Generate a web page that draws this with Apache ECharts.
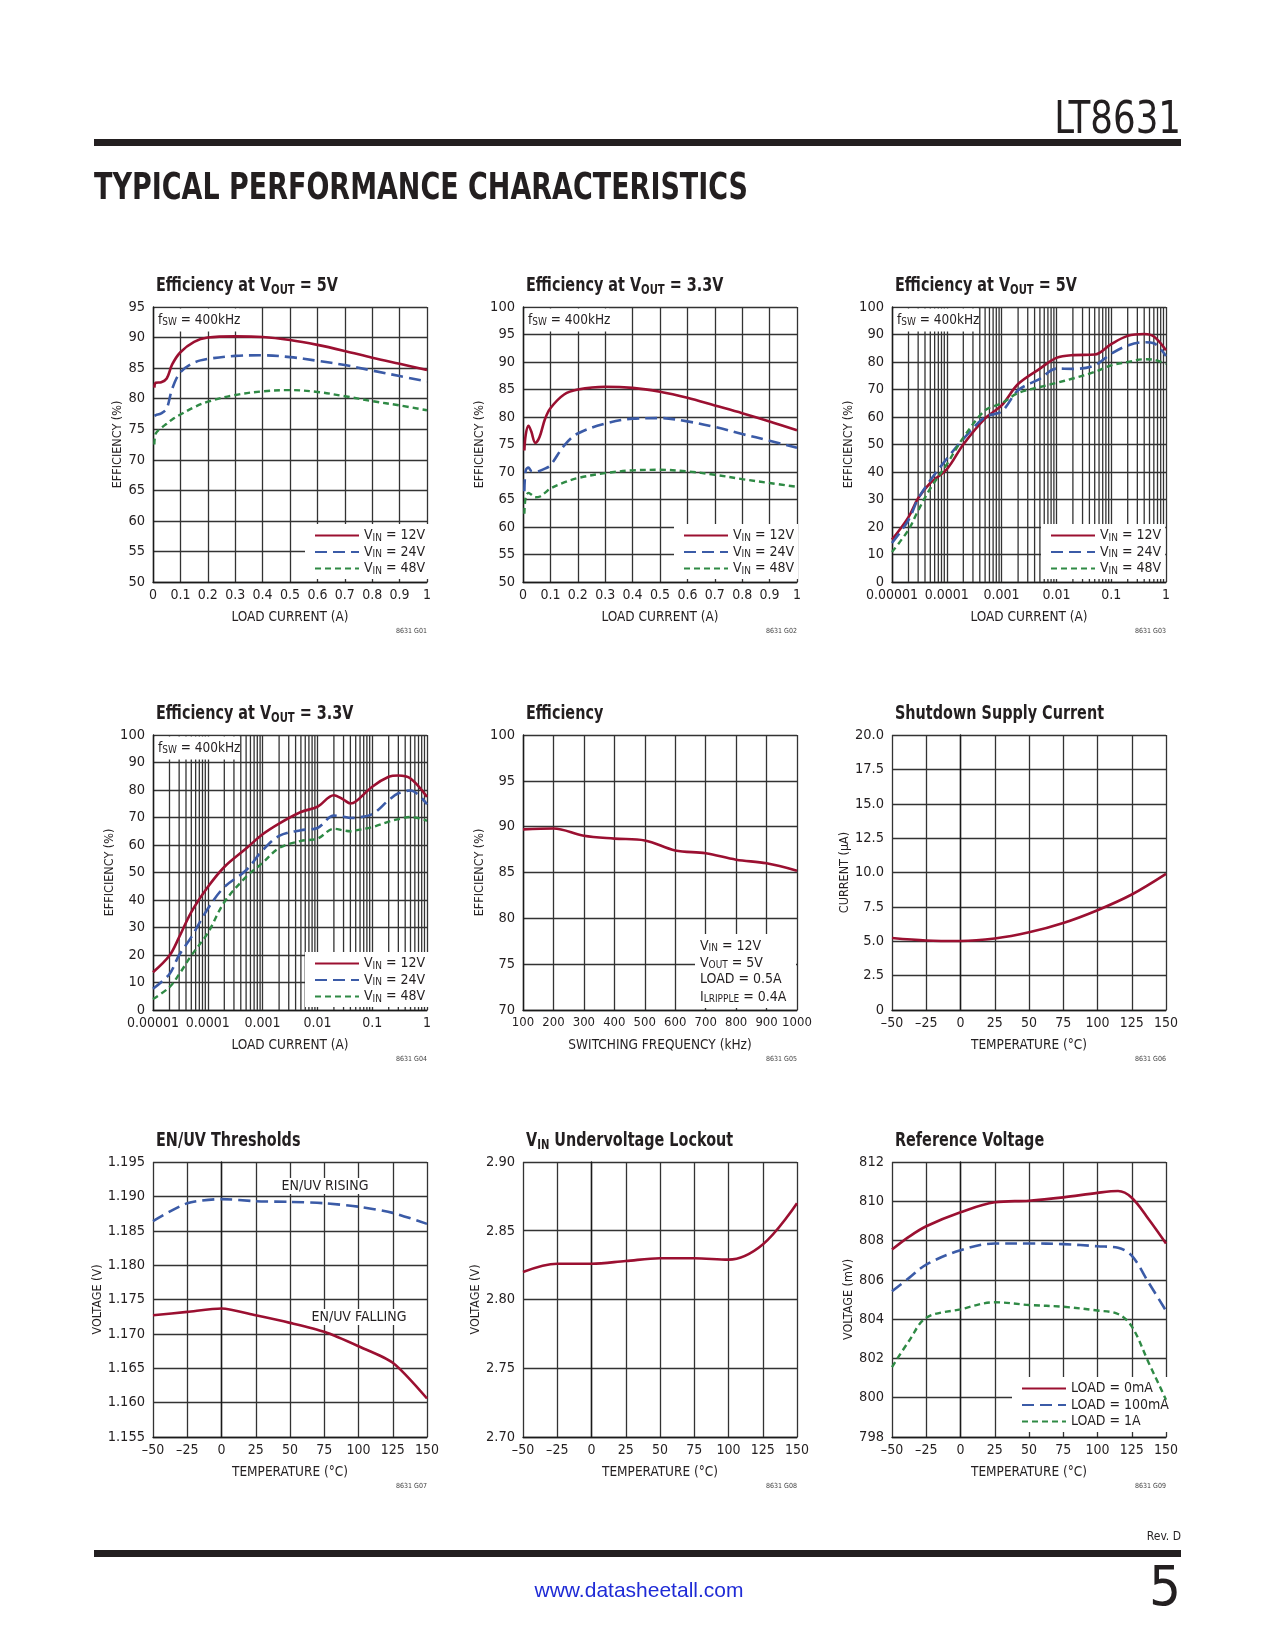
<!DOCTYPE html>
<html><head><meta charset="utf-8">
<script src="https://cdn.jsdelivr.net/npm/echarts@6.0.0/dist/echarts.min.js"></script>
<style>html,body{margin:0;padding:0;background:#fff}#c{width:1275px;height:1650px}</style>
</head><body><div id="c"></div>
<script>
// ---------- DATA ----------
// G01 Efficiency at VOUT = 5V (linear load)
const g1Load = [0.005, 0.01, 0.03, 0.05, 0.07, 0.1, 0.15, 0.2, 0.3, 0.4, 0.5, 0.6, 0.7, 0.8, 0.9, 1.0];
const g1Vin12 = [81.8, 82.6, 82.7, 83.3, 85.6, 87.6, 89.3, 90.0, 90.2, 90.1, 89.6, 88.8, 87.8, 86.7, 85.7, 84.7];
const g1Vin24 = [77.2, 77.3, 77.6, 78.4, 81.6, 84.3, 85.9, 86.5, 87.0, 87.1, 86.8, 86.2, 85.5, 84.6, 83.7, 82.8];
const g1Vin48 = [72.5, 74.3, 75.2, 75.9, 76.6, 77.4, 78.6, 79.5, 80.6, 81.2, 81.4, 81.1, 80.4, 79.6, 78.9, 78.1];
// G02 Efficiency at VOUT = 3.3V (linear load)
const g2Load = [0.005, 0.01, 0.02, 0.03, 0.045, 0.06, 0.08, 0.1, 0.15, 0.2, 0.3, 0.4, 0.5, 0.6, 0.7, 0.8, 0.9, 1.0];
const g2Vin12 = [73.9, 76.8, 78.4, 77.4, 75.3, 76.3, 79.6, 81.6, 84.1, 85.0, 85.5, 85.3, 84.6, 83.5, 82.1, 80.7, 79.2, 77.6];
const g2Vin24 = [66.5, 70.3, 70.8, 70.2, 70.1, 70.2, 70.6, 71.2, 74.8, 77.0, 78.8, 79.7, 79.8, 79.2, 78.2, 76.9, 75.7, 74.4];
const g2Vin48 = [62.4, 65.5, 66.2, 65.9, 65.4, 65.5, 66.2, 67.0, 68.1, 68.9, 69.8, 70.3, 70.4, 70.1, 69.5, 68.7, 68.0, 67.3];
// G03 Efficiency at VOUT = 5V (log load)
const g3Load = [1e-5, 2e-5, 3e-5, 5e-5, 1e-4, 2e-4, 5e-4, 1e-3, 2e-3, 5e-3, 1e-2, 2e-2, 5e-2, 0.1, 0.2, 0.4, 0.6, 1];
const g3Vin12 = [15.4, 23.6, 30.5, 36.0, 41.0, 50.0, 59.5, 64.2, 72.0, 77.6, 81.5, 82.5, 82.7, 86.5, 89.5, 90.2, 89.3, 84.3];
const g3Vin24 = [14.2, 22.5, 30.3, 37.0, 44.8, 52.0, 60.0, 62.0, 69.7, 73.9, 77.6, 77.5, 78.8, 83.0, 86.0, 87.2, 86.8, 82.2];
const g3Vin48 = [10.9, 19.0, 26.0, 34.0, 42.8, 52.5, 62.4, 65.0, 68.7, 70.9, 72.4, 74.0, 76.4, 78.8, 80.0, 81.0, 80.8, 79.3];
// G04 Efficiency at VOUT = 3.3V (log load)
const g4Load = [1e-5, 2e-5, 3e-5, 5e-5, 1e-4, 2e-4, 5e-4, 1e-3, 2e-3, 5e-3, 1e-2, 2e-2, 3e-2, 4e-2, 5e-2, 0.1, 0.2, 0.3, 0.5, 1];
const g4Vin12 = [13.7, 19.8, 26.5, 35.6, 44.7, 52.0, 58.7, 63.9, 67.8, 72.0, 73.9, 78.1, 76.5, 75.1, 75.8, 81.2, 84.8, 85.3, 84.2, 77.5];
const g4Vin24 = [7.7, 13.1, 20.0, 26.5, 36.8, 44.7, 50.8, 58.1, 63.3, 65.4, 66.2, 70.7, 70.3, 69.8, 69.9, 71.2, 76.3, 78.8, 79.8, 74.8];
const g4Vin48 = [4.0, 8.3, 13.0, 19.8, 28.0, 39.2, 48.4, 53.5, 58.9, 61.5, 62.3, 65.9, 65.3, 65.0, 65.3, 66.5, 68.5, 69.4, 70.2, 68.8];
// G05 Efficiency vs switching frequency
const g5Freq = [100, 200, 300, 400, 500, 600, 700, 800, 900, 1000];
const g5Eff = [89.7, 89.8, 89.0, 88.7, 88.5, 87.4, 87.1, 86.4, 86.0, 85.2];
// G06 Shutdown supply current
const tempC = [-50, -25, 0, 25, 50, 75, 100, 125, 150];
const g6Current = [5.24, 5.06, 5.02, 5.2, 5.65, 6.33, 7.26, 8.4, 9.9];
// G07 EN/UV thresholds
const g7Rising = [1.1864, 1.1890, 1.1896, 1.1893, 1.1892, 1.1890, 1.1885, 1.1876, 1.1860];
const g7Falling = [1.1727, 1.1732, 1.1737, 1.1727, 1.1716, 1.1703, 1.1682, 1.1658, 1.1606];
// G08 VIN UVLO
const g8Uvlo = [2.820, 2.826, 2.826, 2.828, 2.830, 2.830, 2.829, 2.840, 2.870];
// G09 Reference voltage
const g9Temp = [-50, -37.5, -25, 0, 25, 50, 75, 100, 115, 125, 137.5, 150];
const g9Load0 = [807.54, 808.2, 808.73, 809.44, 809.95, 810.03, 810.2, 810.43, 810.52, 810.18, 809.07, 807.85];
const g9Load100 = [805.42, 806.1, 806.78, 807.51, 807.85, 807.85, 807.82, 807.71, 807.63, 807.23, 805.84, 804.43];
const g9Load1A = [801.56, 802.9, 804.07, 804.5, 804.86, 804.72, 804.63, 804.44, 804.26, 803.63, 801.76, 799.9];
// log minor grid positions (multipliers within each decade)
const logDecades = [1e-5, 1e-4, 1e-3, 1e-2, 1e-1];
const logMinor = [2, 3, 4, 5, 6, 7, 8, 9];

// ---------- STYLE ----------
const TXT = '#231f20';
const NF = "'DejaVu Sans Condensed','Liberation Sans Narrow','DejaVu Sans',sans-serif";
const BF = "'DejaVu Sans','Liberation Sans',sans-serif";
const GRIDC = '#333333';
const RED = {color: '#9b1031', width: 2.6, type: 'solid'};
const BLUE = {color: '#3b5ba7', width: 2.6, type: [12, 6]};
const GREEN = {color: '#2f8a45', width: 2.4, type: [6, 4]};
const COLS = [153, 523, 892], ROWS = [307, 735, 1162], W = 274, H = 275;

const pairs = (xs, ys) => xs.map((x, i) => [x, ys[i]]);
const tempFmt = v => v < 0 ? '\u2013' + Math.abs(v) : String(v);
const logFmt = v => String(+(+v).toPrecision(1));

const charts = [
  {title: 'Efficiency at V{s|OUT} = 5V', c: 0, r: 0, code: '8631 G01',
   x: {type: 'value', min: 0, max: 1, interval: 0.1, name: 'LOAD CURRENT (A)'},
   y: {min: 50, max: 95, interval: 5, name: 'EFFICIENCY (%)', gap: 28},
   s: [['VIN = 12V', g1Load, g1Vin12, RED], ['VIN = 24V', g1Load, g1Vin24, BLUE], ['VIN = 48V', g1Load, g1Vin48, GREEN]],
   legend: [305, 524], fsw: true},
  {title: 'Efficiency at V{s|OUT} = 3.3V', c: 1, r: 0, code: '8631 G02',
   x: {type: 'value', min: 0, max: 1, interval: 0.1, name: 'LOAD CURRENT (A)'},
   y: {min: 50, max: 100, interval: 5, name: 'EFFICIENCY (%)', gap: 28},
   s: [['VIN = 12V', g2Load, g2Vin12, RED], ['VIN = 24V', g2Load, g2Vin24, BLUE], ['VIN = 48V', g2Load, g2Vin48, GREEN]],
   legend: [674, 524], fsw: true},
  {title: 'Efficiency at V{s|OUT} = 5V', c: 2, r: 0, code: '8631 G03',
   x: {type: 'log', min: 1e-5, max: 1, name: 'LOAD CURRENT (A)'},
   y: {min: 0, max: 100, interval: 10, name: 'EFFICIENCY (%)', gap: 34},
   s: [['VIN = 12V', g3Load, g3Vin12, RED], ['VIN = 24V', g3Load, g3Vin24, BLUE], ['VIN = 48V', g3Load, g3Vin48, GREEN]],
   legend: [1041, 524], fsw: true},
  {title: 'Efficiency at V{s|OUT} = 3.3V', c: 0, r: 1, code: '8631 G04',
   x: {type: 'log', min: 1e-5, max: 1, name: 'LOAD CURRENT (A)'},
   y: {min: 0, max: 100, interval: 10, name: 'EFFICIENCY (%)', gap: 34},
   s: [['VIN = 12V', g4Load, g4Vin12, RED], ['VIN = 24V', g4Load, g4Vin24, BLUE], ['VIN = 48V', g4Load, g4Vin48, GREEN]],
   legend: [305, 952], fsw: true},
  {title: 'Efficiency', c: 1, r: 1, code: '8631 G05',
   x: {type: 'value', min: 100, max: 1000, interval: 100, name: 'SWITCHING FREQUENCY (kHz)', fs: 13},
   y: {min: 70, max: 100, interval: 5, name: 'EFFICIENCY (%)', gap: 29},
   s: [['EFF', g5Freq, g5Eff, RED]]},
  {title: 'Shutdown Supply Current', c: 2, r: 1, code: '8631 G06',
   x: {type: 'value', min: -50, max: 150, interval: 25, name: 'TEMPERATURE (\u00b0C)', fmt: tempFmt},
   y: {min: 0, max: 20, interval: 2.5, name: 'CURRENT (\u03bcA)', gap: 36, fmt: v => v === 0 ? '0' : v.toFixed(1)},
   s: [['IQ', tempC, g6Current, RED]]},
  {title: 'EN/UV Thresholds', c: 0, r: 2, code: '8631 G07',
   x: {type: 'value', min: -50, max: 150, interval: 25, name: 'TEMPERATURE (\u00b0C)', fmt: tempFmt},
   y: {min: 1.155, max: 1.195, interval: 0.005, name: 'VOLTAGE (V)', gap: 44, fmt: v => v.toFixed(3)},
   s: [['EN/UV RISING', tempC, g7Rising, BLUE], ['EN/UV FALLING', tempC, g7Falling, RED]], smooth: 0.25},
  {title: 'V{s|IN} Undervoltage Lockout', c: 1, r: 2, code: '8631 G08',
   x: {type: 'value', min: -50, max: 150, interval: 25, name: 'TEMPERATURE (\u00b0C)', fmt: tempFmt},
   y: {min: 2.70, max: 2.90, interval: 0.05, name: 'VOLTAGE (V)', gap: 35, fmt: v => v.toFixed(2)},
   s: [['UVLO', tempC, g8Uvlo, RED]]},
  {title: 'Reference Voltage', c: 2, r: 2, code: '8631 G09',
   x: {type: 'value', min: -50, max: 150, interval: 25, name: 'TEMPERATURE (\u00b0C)', fmt: tempFmt},
   y: {min: 798, max: 812, interval: 2, name: 'VOLTAGE (mV)', gap: 36},
   s: [['LOAD = 0mA', g9Temp, g9Load0, RED], ['LOAD = 100mA', g9Temp, g9Load100, BLUE], ['LOAD = 1A', g9Temp, g9Load1A, GREEN]],
   legend: [1012, 1377]}
];

const subRich = (fs, pad) => ({s: {fontFamily: NF, fontSize: fs, fill: TXT, color: TXT, padding: [pad, 0, 0, 0]}});

const option = {animation: false, backgroundColor: '#fff', grid: [], xAxis: [], yAxis: [], series: [], legend: [], graphic: []};

charts.forEach((ch, i) => {
  const L = COLS[ch.c], T = ROWS[ch.r];
  option.grid.push({left: L, top: T, width: W, height: H, containLabel: false});
  // chart title (condensed bold look via horizontal scale)
  option.graphic.push({type: 'text', z: 60, x: L + 3, y: T - 21, scaleX: 0.72, scaleY: 1,
    style: {text: ch.title, x: 0, y: 0, verticalAlign: 'middle', fontFamily: BF, fontWeight: 'bold', fontSize: 20, fill: TXT,
      rich: {s: {fontFamily: BF, fontWeight: 'bold', fontSize: 14, fill: TXT, padding: [8, 0, 0, 0]}}}});
  const xa = {
    type: ch.x.type, gridIndex: i, min: ch.x.min, max: ch.x.max,
    name: ch.x.name, nameLocation: 'middle', nameGap: 28,
    nameTextStyle: {fontFamily: NF, fontSize: 13.5, color: TXT},
    axisLine: {show: true, lineStyle: {color: '#1a1a1a', width: 1.4}},
    axisTick: {show: false},
    axisLabel: {fontFamily: NF, fontSize: ch.x.fs || 14, color: TXT, margin: 6, interval: 0, hideOverlap: false,
      showMinLabel: true, showMaxLabel: true,
      formatter: ch.x.type === 'log' ? logFmt : (ch.x.fmt || (v => String(+v.toFixed(2))))},
    splitLine: {show: true, lineStyle: {color: GRIDC, width: 1.3}}
  };
  if (ch.x.type === 'log') { xa.logBase = 10; } else { xa.interval = ch.x.interval; }
  option.xAxis.push(xa);
  option.yAxis.push({
    type: 'value', gridIndex: i, min: ch.y.min, max: ch.y.max, interval: ch.y.interval,
    name: ch.y.name, nameLocation: 'middle', nameGap: ch.y.gap, nameRotate: 90,
    nameTextStyle: {fontFamily: NF, fontSize: 12.5, color: TXT},
    axisLine: {show: true, lineStyle: {color: '#1a1a1a', width: 1.4}},
    axisTick: {show: false},
    axisLabel: {fontFamily: NF, fontSize: 14.5, color: TXT, margin: 8, showMinLabel: true, showMaxLabel: true,
      formatter: ch.y.fmt || (v => String(v))},
    splitLine: {show: true, lineStyle: {color: GRIDC, width: 1.3}}
  });
  if (ch.x.type === 'log') {
    // minor vertical grid lines at 2..9 of each decade, drawn through the log axis
    const minorData = [];
    logDecades.forEach(d => logMinor.forEach(m => {
      const v = +(d * m).toPrecision(2);
      minorData.push([v, ch.y.min], [v, ch.y.max], [v, null]);
    }));
    option.series.push({
      type: 'line', name: '_minor' + i, xAxisIndex: i, yAxisIndex: i, data: minorData, z: 1, silent: true,
      showSymbol: false, symbol: 'none', connectNulls: false, smooth: false,
      lineStyle: {color: GRIDC, width: 1.3, type: 'solid'}, itemStyle: {color: GRIDC}, emphasis: {disabled: true}
    });
  }
  ch.s.forEach(([name, xs, ys, st]) => {
    option.series.push({
      type: 'line', name: name, xAxisIndex: i, yAxisIndex: i, data: pairs(xs, ys),
      showSymbol: false, symbol: 'none', smooth: ch.smooth !== undefined ? ch.smooth : 0.35,
      lineStyle: {color: st.color, width: st.width, type: st.type}, itemStyle: {color: st.color},
      z: 3, silent: true, emphasis: {disabled: true}
    });
  });
  if (ch.legend) {
    option.legend.push({
      orient: 'vertical', left: ch.legend[0], top: ch.legend[1], itemWidth: 44, itemHeight: 12, z: 2,
      itemGap: 1.5, itemTextGap: 5, padding: [4, 4, 3, 9], backgroundColor: '#fff', selectedMode: false,
      itemStyle: {color: 'rgba(0,0,0,0)', borderWidth: 0, opacity: 0},
      data: ch.s.map(s => s[0]),
      formatter: n => n.replace(/^VIN/, 'V{s|IN}'),
      textStyle: {fontFamily: NF, fontSize: 14, color: TXT, lineHeight: 15,
        rich: {s: {fontFamily: NF, fontSize: 10, color: TXT, lineHeight: 10, padding: [5, 0, 0, 0]}}}
    });
  }
  option.graphic.push({type: 'text', z: 50, style: {text: ch.code, x: L + W, y: T + H + 49,
    align: 'right', verticalAlign: 'middle', fontFamily: NF, fontSize: 7, fill: '#444'}});
  if (ch.fsw) {
    option.graphic.push({type: 'rect', z: 50, shape: {x: L + 2, y: T + 1.5, width: 84, height: 23}, style: {fill: '#fff'}});
    option.graphic.push({type: 'text', z: 51, style: {text: 'f{s|SW} = 400kHz', x: L + 5, y: T + 13,
      verticalAlign: 'middle', fontFamily: NF, fontSize: 13.5, fill: TXT, lineHeight: 15, rich: subRich(10, 5)}});
  }
});

// chart 5 condition box
option.graphic.push({type: 'rect', z: 50, shape: {x: 695, y: 934, width: 101, height: 74}, style: {fill: '#fff'}});
[['V{s|IN} = 12V', 946], ['V{s|OUT} = 5V', 963], ['LOAD = 0.5A', 979], ['I{s|LRIPPLE} = 0.4A', 997]].forEach(([t, y]) => {
  option.graphic.push({type: 'text', z: 51, style: {text: t, x: 700, y: y, verticalAlign: 'middle',
    fontFamily: NF, fontSize: 14, fill: TXT, lineHeight: 15, rich: subRich(10, 5)}});
});
// chart 7 curve labels
option.graphic.push({type: 'text', z: 51, style: {text: 'EN/UV RISING', x: 325, y: 1186, align: 'center', verticalAlign: 'middle',
  fontFamily: NF, fontSize: 14, fill: TXT, backgroundColor: '#fff', padding: [1, 2, 1, 2]}});
option.graphic.push({type: 'text', z: 51, style: {text: 'EN/UV FALLING', x: 359, y: 1317, align: 'center', verticalAlign: 'middle',
  fontFamily: NF, fontSize: 14, fill: TXT, backgroundColor: '#fff', padding: [1, 2, 1, 2]}});

// page furniture
option.graphic.push(
  {type: 'text', z: 50, x: 1181, y: 122, scaleX: 0.9, style: {text: 'LT8631', x: 0, y: 0, align: 'right', verticalAlign: 'middle', fontFamily: NF, fontSize: 44, fill: TXT}},
  {type: 'rect', z: 50, shape: {x: 94, y: 139, width: 1087, height: 7}, style: {fill: TXT}},
  {type: 'text', z: 50, x: 94, y: 189, scaleX: 0.71, style: {text: 'TYPICAL PERFORMANCE CHARACTERISTICS', x: 0, y: 0, verticalAlign: 'middle', fontFamily: BF, fontWeight: 'bold', fontSize: 38, fill: TXT}},
  {type: 'rect', z: 50, shape: {x: 94, y: 1550, width: 1087, height: 7}, style: {fill: TXT}},
  {type: 'text', z: 50, style: {text: 'Rev. D', x: 1181, y: 1537, align: 'right', verticalAlign: 'middle', fontFamily: NF, fontSize: 12, fill: TXT}},
  {type: 'text', z: 50, style: {text: 'www.datasheetall.com', x: 639, y: 1591, align: 'center', verticalAlign: 'middle', fontFamily: "'Liberation Sans',sans-serif", fontSize: 21, fill: '#1f2bd6'}},
  {type: 'text', z: 50, style: {text: '5', x: 1181, y: 1590, align: 'right', verticalAlign: 'middle', fontFamily: NF, fontSize: 56, fill: TXT}}
);

const chart = echarts.init(document.getElementById('c'), null, {renderer: 'canvas', width: 1275, height: 1650});
chart.setOption(option);
</script></body></html>
